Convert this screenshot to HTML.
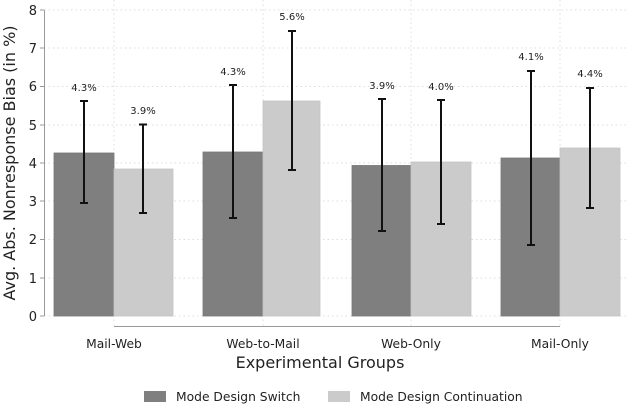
<!DOCTYPE html>
<html><head><style>body{margin:0;background:#fff}svg{display:block;font-family:"DejaVu Sans",sans-serif}</style></head><body>
<svg width="628" height="404" viewBox="0 0 628 404">
<g stroke="#ddd" stroke-dasharray="1.5,3" stroke-width="1">
<line x1="44" y1="316" x2="628" y2="316"/><line x1="44" y1="278" x2="628" y2="278"/><line x1="44" y1="239.5" x2="628" y2="239.5"/><line x1="44" y1="201" x2="628" y2="201"/><line x1="44" y1="163" x2="628" y2="163"/><line x1="44" y1="125" x2="628" y2="125"/><line x1="44" y1="86.5" x2="628" y2="86.5"/><line x1="44" y1="48" x2="628" y2="48"/><line x1="44" y1="10" x2="628" y2="10"/>
<line x1="114" y1="0" x2="114" y2="326"/><line x1="263" y1="0" x2="263" y2="326"/><line x1="411" y1="0" x2="411" y2="326"/><line x1="560" y1="0" x2="560" y2="326"/>
</g>
<g fill="#7f7f7f" stroke="#777" stroke-width="0.8"><rect x="54" y="153" width="60" height="163"/><rect x="203" y="152" width="60" height="164"/><rect x="352" y="165.5" width="59" height="150.5"/><rect x="501" y="158" width="59" height="158"/></g>
<g fill="#cbcbcb" stroke="#c4c4c4" stroke-width="0.8"><rect x="114" y="169" width="59" height="147"/><rect x="263" y="101" width="57" height="215"/><rect x="411" y="162" width="60" height="154"/><rect x="560" y="148" width="60" height="168"/></g>
<g stroke="#111" stroke-width="2">
<path d="M84 101V203M80 101h8M80 203h8"/><path d="M143 124.5V213M139 124.5h8M139 213h8"/>
<path d="M233 85V218M229 85h8M229 218h8"/><path d="M292 31V170M288 31h8M288 170h8"/>
<path d="M382 99V231M378 99h8M378 231h8"/><path d="M441 100V224M437 100h8M437 224h8"/>
<path d="M531 71V245M527 71h8M527 245h8"/><path d="M590 88V208M586 88h8M586 208h8"/>
</g>
<g font-size="10" fill="#222" text-anchor="middle">
<text x="84" y="91">4.3%</text><text x="143" y="114">3.9%</text><text x="233" y="75">4.3%</text><text x="292" y="20">5.6%</text>
<text x="382" y="89">3.9%</text><text x="441" y="90">4.0%</text><text x="531" y="60">4.1%</text><text x="590" y="77">4.4%</text>
</g>
<g stroke="#999" stroke-width="1"><line x1="44.5" y1="10" x2="44.5" y2="316"/><line x1="114" y1="326.5" x2="560" y2="326.5"/>
<path d="M40 316h4M40 278h4M40 239.5h4M40 201h4M40 163h4M40 125h4M40 86.5h4M40 48h4M40 10h4"/></g>
<g font-size="13" fill="#222" text-anchor="end">
<text x="37" y="321">0</text><text x="37" y="283">1</text><text x="37" y="244">2</text><text x="37" y="206">3</text><text x="37" y="168">4</text><text x="37" y="130">5</text><text x="37" y="91">6</text><text x="37" y="53">7</text><text x="37" y="15">8</text>
</g>
<text transform="translate(15,163) rotate(-90)" font-size="16" fill="#222" text-anchor="middle">Avg. Abs. Nonresponse Bias (in %)</text>
<g font-size="12.3" fill="#222" text-anchor="middle">
<text x="114" y="348">Mail-Web</text><text x="263" y="348">Web-to-Mail</text><text x="411" y="348">Web-Only</text><text x="560" y="348">Mail-Only</text>
</g>
<text x="320" y="368" font-size="16" fill="#222" text-anchor="middle">Experimental Groups</text>
<rect x="144" y="391" width="22" height="11" fill="#7f7f7f"/><text x="176" y="401" font-size="12.3" fill="#222">Mode Design Switch</text>
<rect x="328" y="391" width="22" height="11" fill="#cbcbcb"/><text x="360" y="401" font-size="12.3" fill="#222">Mode Design Continuation</text>
</svg>
</body></html>
